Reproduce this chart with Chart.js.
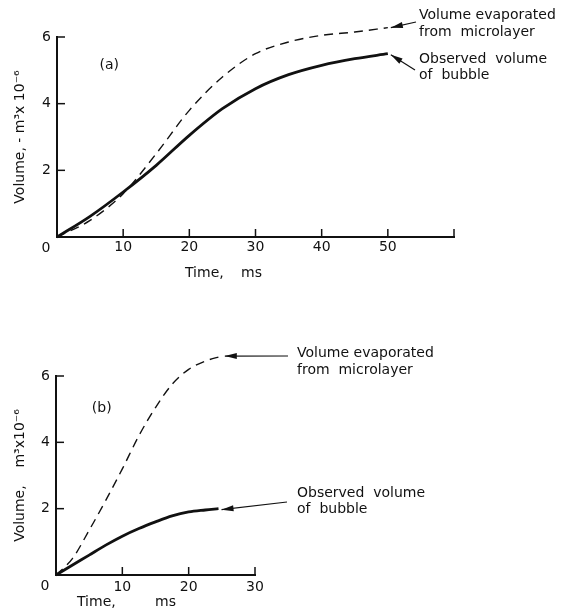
<!DOCTYPE html>
<html>
<head>
<meta charset="utf-8">
<script src="https://cdn.jsdelivr.net/npm/chart.js@4.4.1/dist/chart.umd.min.js"></script>
<style>
    body { margin: 0; background: #fff; }
    #painelA { position: absolute; left: 0; top: 0; }
    #painelB { position: absolute; left: 0; top: 300px; }
</style>
</head>
<body>
<div id="painelA"><canvas id="graficoA" width="564" height="300"></canvas></div>
<div id="painelB"><canvas id="graficoB" width="564" height="316"></canvas></div>
<script>
// (a) dados, tempo em ms, volume em m3 x 10^-6
var tempoA      = [0, 5, 10, 15, 20, 25, 30, 35, 40, 45, 50];
var evaporadoA  = [0, 0.5, 1.3, 2.5, 3.8, 4.8, 5.5, 5.85, 6.05, 6.15, 6.28];
var observadoA  = [0, 0.62, 1.35, 2.15, 3.05, 3.85, 4.45, 4.87, 5.15, 5.35, 5.5];

// (b)
var tempoB      = [0, 2.5, 5, 7.5, 10, 12.5, 15, 17.5, 20, 22.5, 25];
var evaporadoB  = [0, 0.5, 1.35, 2.25, 3.2, 4.2, 5.05, 5.75, 6.2, 6.45, 6.6];
var tempoObsB   = [0, 2.5, 5, 7.5, 10, 12.5, 15, 17.5, 20, 22.5, 24.5];
var observadoB  = [0, 0.3, 0.6, 0.9, 1.17, 1.4, 1.6, 1.78, 1.9, 1.96, 2.0];

// ticks
var ticksXA = [0, 10, 20, 30, 40, 50, 60];
var ticksXB = [0, 10, 20, 30];
var ticksY  = [0, 2, 4, 6];

var fonte = '"DejaVu Sans", sans-serif';
var tinta = "#111";

Chart.defaults.font.family = fonte;
Chart.defaults.font.size = 14;
Chart.defaults.color = tinta;

function pontos(xs, ys) {
    var lista = [];
    for (var i = 0; i < xs.length; i++) {
        lista.push({ x: xs[i], y: ys[i] });
    }
    return lista;
}

function seta(ctx, x1, y1, x2, y2) {
    // linha do texto ate a ponta, cabeca cheia na ponta
    var ang = Math.atan2(y2 - y1, x2 - x1);
    ctx.beginPath();
    ctx.moveTo(x1, y1);
    ctx.lineTo(x2, y2);
    ctx.lineWidth = 1.2;
    ctx.stroke();
    ctx.beginPath();
    ctx.moveTo(x2, y2);
    ctx.lineTo(x2 - 12 * Math.cos(ang) + 3 * Math.sin(ang), y2 - 12 * Math.sin(ang) - 3 * Math.cos(ang));
    ctx.lineTo(x2 - 12 * Math.cos(ang) - 3 * Math.sin(ang), y2 - 12 * Math.sin(ang) + 3 * Math.cos(ang));
    ctx.closePath();
    ctx.fill();
}

function pluginDesenho(cfg) {
    return {
        id: "desenho",
        afterDraw: function (chart) {
            var ctx = chart.ctx;
            var sx = chart.scales.x;
            var sy = chart.scales.y;
            var area = chart.chartArea;

            ctx.save();
            ctx.strokeStyle = tinta;
            ctx.fillStyle = tinta;

            // ticks para dentro
            ctx.lineWidth = 1.5;
            sx.ticks.forEach(function (t) {
                if (t.value === 0) return;
                var px = sx.getPixelForValue(t.value);
                ctx.beginPath();
                ctx.moveTo(px, area.bottom);
                ctx.lineTo(px, area.bottom - 8);
                ctx.stroke();
            });
            sy.ticks.forEach(function (t) {
                if (t.value === 0) return;
                var py = sy.getPixelForValue(t.value);
                ctx.beginPath();
                ctx.moveTo(area.left, py);
                ctx.lineTo(area.left + 8, py);
                ctx.stroke();
            });

            ctx.textBaseline = "middle";
            ctx.textAlign = "center";
            ctx.font = "14px " + fonte;
            ctx.fillText("0", area.left - 11, area.bottom + 11);

            ctx.fillText(cfg.painel, sx.getPixelForValue(cfg.painelEm[0]), sy.getPixelForValue(cfg.painelEm[1]));

            // titulo do eixo x
            ctx.textAlign = "left";
            ctx.fillText("Time,", cfg.tempo[0], cfg.tempo[2]);
            ctx.fillText("ms", cfg.tempo[1], cfg.tempo[2]);

            // textos das curvas
            ctx.fillText("Volume evaporated", cfg.textoX, cfg.evapY);
            ctx.fillText("from  microlayer", cfg.textoX, cfg.evapY + 17);
            ctx.fillText("Observed  volume", cfg.textoX, cfg.obsY);
            ctx.fillText("of  bubble", cfg.textoX, cfg.obsY + 16);

            // setas ate o fim de cada curva
            var fimEvap = chart.data.datasets[0].data[chart.data.datasets[0].data.length - 1];
            var fimObs = chart.data.datasets[1].data[chart.data.datasets[1].data.length - 1];
            var ex = sx.getPixelForValue(fimEvap.x), ey = sy.getPixelForValue(fimEvap.y);
            var ox = sx.getPixelForValue(fimObs.x), oy = sy.getPixelForValue(fimObs.y);
            seta(ctx, cfg.setaEvap[0], cfg.setaEvap[1], ex + 3, ey);
            seta(ctx, cfg.setaObs[0], cfg.setaObs[1], ox + 3, oy + 1);

            ctx.restore();
        }
    };
}

function criarGrafico(idCanvas, dados, eixo, cfg) {
    var config = {
        type: "line",
        data: {
            datasets: [{
                data: dados.evaporado,
                borderColor: tinta,
                borderWidth: 1.4,
                borderDash: [9, 6],
                pointRadius: 0,
                cubicInterpolationMode: "monotone",
                clip: false,
                fill: false
            }, {
                data: dados.observado,
                borderColor: tinta,
                borderWidth: 2.8,
                pointRadius: 0,
                cubicInterpolationMode: "monotone",
                clip: false,
                fill: false
            }]
        },
        options: {
            responsive: false,
            animation: false,
            devicePixelRatio: 1,
            layout: { padding: { left: 0, right: eixo.direita, top: eixo.topo, bottom: 0 } },
            plugins: {
                legend: { display: false },
                tooltip: { enabled: false }
            },
            scales: {
                x: {
                    type: "linear",
                    min: 0,
                    max: eixo.xMax,
                    afterBuildTicks: function (s) {
                        s.ticks = eixo.ticksX.map(function (v) { return { value: v }; });
                    },
                    ticks: {
                        padding: eixo.padX,
                        maxRotation: 0,
                        autoSkip: false,
                        font: { size: 14 },
                        callback: function (v) { return (v === 0 || v === 60) ? "" : v; }
                    },
                    grid: { display: false, drawTicks: false },
                    border: { color: tinta, width: 2 },
                    afterFit: function (s) { s.height = eixo.alturaX; }
                },
                y: {
                    min: 0,
                    max: 6,
                    afterBuildTicks: function (s) {
                        s.ticks = ticksY.map(function (v) { return { value: v }; });
                    },
                    ticks: {
                        padding: 6,
                        font: { size: 14 },
                        callback: function (v) { return v === 0 ? "" : v; }
                    },
                    grid: { display: false, drawTicks: false },
                    border: { color: tinta, width: 2 },
                    title: {
                        display: true,
                        text: eixo.tituloY,
                        font: { size: 14 },
                        color: tinta,
                        padding: { top: 12, bottom: 0 }
                    },
                    afterFit: function (s) { s.width = eixo.larguraY; }
                }
            }
        },
        plugins: [pluginDesenho(cfg)]
    };
    return new Chart(document.getElementById(idCanvas), config);
}

criarGrafico("graficoA",
    { evaporado: pontos(tempoA, evaporadoA), observado: pontos(tempoA, observadoA) },
    { xMax: 60, ticksX: ticksXA, direita: 110, topo: 37, alturaX: 63, larguraY: 57, padX: 2,
      tituloY: "Volume, - m\u00b3x 10\u207b\u2076" },
    { painel: "(a)", painelEm: [7.9, 5.15], tempo: [185, 241, 273],
      textoX: 419, evapY: 15, obsY: 59, setaEvap: [416, 22], setaObs: [415, 70] });

criarGrafico("graficoB",
    { evaporado: pontos(tempoB, evaporadoB), observado: pontos(tempoObsB, observadoB) },
    { xMax: 30, ticksX: ticksXB, direita: 309, topo: 76, alturaX: 41, larguraY: 56, padX: 4,
      tituloY: "Volume,    m\u00b3x10\u207b\u2076" },
    { painel: "(b)", painelEm: [6.9, 5.03], tempo: [77, 155, 302],
      textoX: 297, evapY: 53, obsY: 193, setaEvap: [288, 56], setaObs: [287, 202] });
</script>
</body>
</html>
